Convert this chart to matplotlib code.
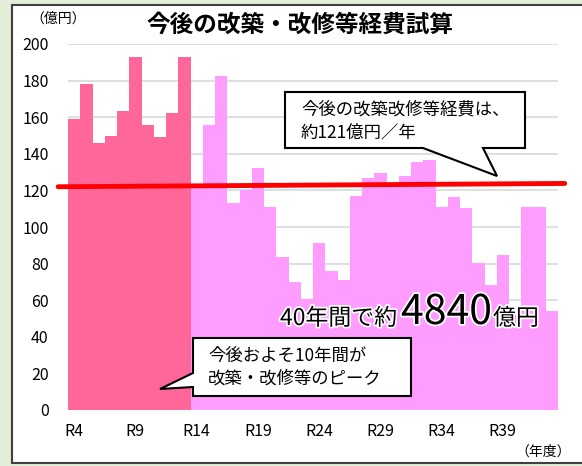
import numpy as np
import matplotlib
matplotlib.use("Agg")
import matplotlib.pyplot as plt
from matplotlib.patches import Rectangle, Polygon
import matplotlib.patheffects as pe

plt.rcParams['font.family'] = ['Noto Sans CJK JP', 'DejaVu Sans']

# 年度 R4 .. R43 (40年間)
years = ["R%d" % n for n in range(4, 44)]
cost = [159, 178, 146, 150, 163.5, 193, 155.5, 149, 162.5, 193,
        122, 155.7, 182.5, 112.9, 120, 132, 111.1, 83.8, 70.1, 60.5,
        91.1, 76.1, 71, 116.9, 126.6, 129.3, 122, 127.9, 135.4, 136.6,
        111.1, 116.2, 110.2, 80.5, 68.3, 84.7, 55, 111.1, 111.1, 54.3]
peak_n = 10
avg_line_x = [-1.3, 40.05]
avg_line_y = [122, 123.8]
yticks = [0, 20, 40, 60, 80, 100, 120, 140, 160, 180, 200]
xtick_idx = [0, 5, 10, 15, 20, 25, 30, 35]

W, H = 582, 466
def fx(x):
    return x / W
def fy(y):
    return 1 - y / H

fig = plt.figure(figsize=(5.82, 4.66), dpi=100)
fig.patch.set_facecolor("#e2eed8")

# white frame
fig.add_artist(Rectangle((fx(12), fy(463)), fx(600) - fx(12), fy(5) - fy(463),
                         transform=fig.transFigure, facecolor="white",
                         edgecolor="#404040", lw=1.5, zorder=-1))

ax = fig.add_axes([fx(68), fy(410), fx(558) - fx(68), fy(44) - fy(410)])
ax.set_facecolor("white")
x = np.arange(len(years))
colors = ["#ff6699" if i < peak_n else "#ff9cff" for i in range(len(years))]
ax.bar(x, cost, width=1.0, color=colors, edgecolor="none", zorder=2)
ax.plot(avg_line_x, avg_line_y, color="#ff0000", lw=3.5, solid_capstyle="round",
        clip_on=False, zorder=3)

ax.set_xlim(-0.5, len(years) - 0.5)
ax.set_ylim(0, 200)
ax.set_yticks(yticks)
ax.set_xticks(xtick_idx)
ax.set_xticklabels([years[i] for i in xtick_idx])
ax.grid(axis="y", color="#d9d9d9", lw=1.2, zorder=0)
ax.set_axisbelow(True)
for s in ax.spines.values():
    s.set_visible(False)
ax.tick_params(axis="both", length=0, labelsize=11.5)
ax.tick_params(axis="x", pad=9)
ax.tick_params(axis="y", pad=14)
for lab in ax.get_xticklabels() + ax.get_yticklabels():
    lab.set_family(['Liberation Sans Narrow', 'Noto Sans CJK JP'])

fig.text(fx(300), fy(25), "今後の改築・改修等経費試算", fontsize=17, fontweight="bold",
         ha="center", va="center")
fig.text(fx(58), fy(19), "（億円）", fontsize=10, ha="center", va="center")
fig.text(fx(543), fy(452), "（年度）", fontsize=10, ha="center", va="center")

# callouts
c1 = [(285, 92), (525, 92), (525, 148), (483, 148), (497, 176), (423, 148), (285, 148)]
c2 = [(193, 338), (411, 338), (411, 396), (193, 396), (193, 387), (160, 389), (193, 373)]
for pts in (c1, c2):
    fig.add_artist(Polygon([(fx(a), fy(b)) for a, b in pts], closed=True,
                           transform=fig.transFigure, facecolor="white",
                           edgecolor="black", lw=1.5, zorder=5))
fig.text(fx(301), fy(121), "今後の改築改修等経費は、\n約121億円／年", fontsize=12.5,
         ha="left", va="center", linespacing=1.3, zorder=6)
fig.text(fx(208), fy(367), "今後およそ10年間が\n改築・改修等のピーク", fontsize=12.5,
         ha="left", va="center", linespacing=1.3, zorder=6)

glow = [pe.withStroke(linewidth=2.5, foreground="white")]
fig.text(fx(397), fy(325), "40年間で約", fontsize=16.5, ha="right", va="baseline",
         path_effects=glow, zorder=6)
fig.text(fx(401), fy(324), "4840", fontsize=29.5, ha="left", va="baseline",
         family=['Liberation Sans Narrow', 'Noto Sans CJK JP'],
         path_effects=glow, zorder=6)
fig.text(fx(493), fy(325), "億円", fontsize=16.5, ha="left", va="baseline",
         path_effects=glow, zorder=6)

fig.savefig("out.png", dpi=100, facecolor=fig.get_facecolor())
